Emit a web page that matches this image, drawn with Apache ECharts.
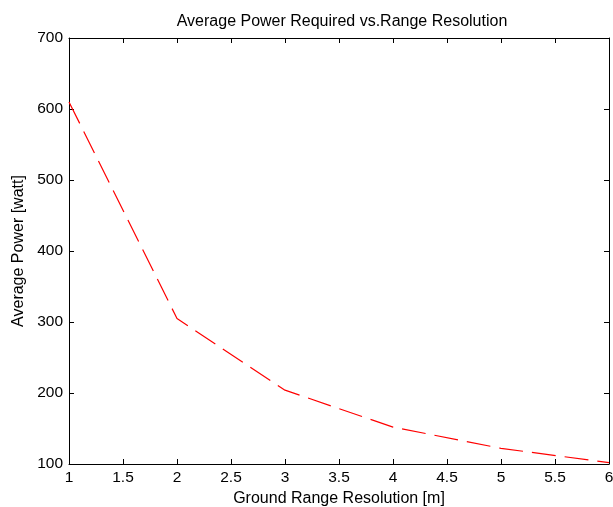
<!DOCTYPE html>
<html>
<head>
<meta charset="utf-8">
<script src="https://cdn.jsdelivr.net/npm/echarts@6/dist/echarts.min.js"></script>
<style>
html,body{margin:0;padding:0;background:#fff;}
#chart{width:613px;height:507px;}
</style>
</head>
<body>
<div id="chart"></div>
<script>
// Ground range resolution [m] and the average power needed for it [watt]
const resolution = [1, 2, 3, 4, 5, 6];
const avgPower = [610, 305, 204, 152, 122, 102];
const xTicks = [1, 1.5, 2, 2.5, 3, 3.5, 4, 4.5, 5, 5.5, 6];
const yTicks = [100, 200, 300, 400, 500, 600, 700];

const font = 'Liberation Sans, Arial, sans-serif';
const chart = echarts.init(document.getElementById('chart'), null, {renderer: 'canvas'});

const boxAxisLine = {show: true, onZero: false, lineStyle: {color: '#000', width: 1}};
const innerTick = {show: true, inside: true, length: 5, lineStyle: {color: '#000'}};

chart.setOption({
  animation: false,
  backgroundColor: '#fff',
  title: {
    text: 'Average Power Required vs.Range Resolution',
    left: 337, top: 9, textAlign: 'center',
    textStyle: {fontFamily: font, fontSize: 16, fontWeight: 'normal', color: '#000'}
  },
  grid: {left: 69, right: 4, top: 38, bottom: 43, show: false,
         containLabel: false, outerBoundsMode: 'none'},
  xAxis: [{
    type: 'value', min: xTicks[0], max: xTicks[xTicks.length - 1], interval: 0.5,
    axisLine: boxAxisLine,
    axisTick: innerTick,
    axisLabel: {fontFamily: font, fontSize: 15.5, color: '#000', margin: 6},
    splitLine: {show: false},
    name: 'Ground Range Resolution [m]', nameLocation: 'middle', nameGap: 26,
    nameTextStyle: {fontFamily: font, fontSize: 16, color: '#000'}
  }, {
    type: 'value', position: 'top', min: xTicks[0], max: xTicks[xTicks.length - 1], interval: 0.5,
    axisLine: boxAxisLine,
    axisTick: innerTick,
    axisLabel: {show: false}, splitLine: {show: false}
  }],
  yAxis: [{
    type: 'value', min: yTicks[0], max: yTicks[yTicks.length - 1], interval: 100,
    axisLine: boxAxisLine,
    axisTick: innerTick,
    axisLabel: {fontFamily: font, fontSize: 15.5, color: '#000', margin: 6},
    splitLine: {show: false},
    name: 'Average Power [watt]', nameLocation: 'middle', nameGap: 40, nameRotate: 90,
    nameTextStyle: {fontFamily: font, fontSize: 16, color: '#000'}
  }, {
    type: 'value', position: 'right', min: yTicks[0], max: yTicks[yTicks.length - 1], interval: 100,
    axisLine: boxAxisLine,
    axisTick: innerTick,
    axisLabel: {show: false}, splitLine: {show: false}
  }],
  series: [{
    type: 'line',
    data: resolution.map((r, i) => [r, avgPower[i]]),
    showSymbol: false,
    lineStyle: {color: '#ff0000', width: 1.2, type: [24, 9]}
  }]
});
</script>
</body>
</html>
